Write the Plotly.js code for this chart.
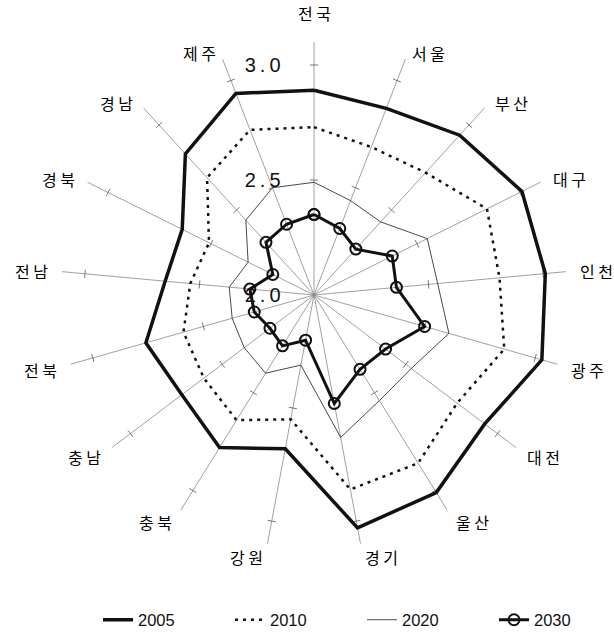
<!DOCTYPE html>
<html><head><meta charset="utf-8">
<script src="https://cdn.plot.ly/plotly-3.0.1.min.js"></script>
<style>html,body{margin:0;padding:0;background:#fff}</style>
</head><body><div id="chart" style="width:614px;height:632px"></div>
<script>
const categories = ['전국','서울','부산','대구','인천','광주','대전','울산','경기','강원','충북','충남','전북','전남','경북','경남','제주'];
const values2005 = [2.89,2.87,2.94,3.01,3.01,3.03,2.93,3.01,3.03,2.68,2.78,2.72,2.76,2.65,2.64,2.83,2.94];
const values2010 = [2.73,2.69,2.72,2.84,2.81,2.86,2.78,2.86,2.86,2.55,2.64,2.60,2.59,2.54,2.51,2.69,2.77];
const values2020 = [2.49,2.44,2.43,2.55,2.54,2.61,2.53,2.54,2.63,2.31,2.40,2.38,2.37,2.37,2.32,2.44,2.50];
const values2030 = [2.35,2.31,2.27,2.38,2.36,2.50,2.39,2.38,2.48,2.20,2.26,2.24,2.27,2.28,2.20,2.31,2.33];
const seriesNames = ['2005','2010','2020','2030'];
const radialTicks = [2.0, 2.5, 3.0];
const radialTickText = ['2.0','2.5','3.0'];
const radialMin = 2.0, radialMax = 3.1;

const n = categories.length;
const theta = categories.map((c, i) => i * 360 / n);
const close = a => a.concat([a[0]]);
const thetaC = close(theta);

// small tick crosses on every spoke at 2.5 and 3.0
const tickHalf = 0.018;
const tr = [], tt = [];
theta.forEach(th => {
  radialTicks.filter(v => v > radialMin).forEach(v => {
    const d = v - radialMin;
    const rr = radialMin + Math.sqrt(d * d + tickHalf * tickHalf);
    const dth = Math.atan(tickHalf / d) * 180 / Math.PI;
    tr.push(rr, rr, null);
    tt.push(th - dth, th + dth, null);
  });
});

const traces = [
  {type:'scatterpolar', r: tr, theta: tt, mode:'lines', line:{color:'#555', width:0.8},
   showlegend:false, hoverinfo:'skip', connectgaps:false},
  {type:'scatterpolar', name: seriesNames[0], r: close(values2005), theta: thetaC, mode:'lines',
   line:{color:'#111', width:3.5}},
  {type:'scatterpolar', name: seriesNames[1], r: close(values2010), theta: thetaC, mode:'lines',
   line:{color:'#111', width:2.5, dash:'3px,5px'}},
  {type:'scatterpolar', name: seriesNames[2], r: close(values2020), theta: thetaC, mode:'lines',
   line:{color:'#333', width:0.9}},
  {type:'scatterpolar', name: seriesNames[3], r: close(values2030), theta: thetaC, mode:'lines+markers',
   line:{color:'#111', width:3}, marker:{symbol:'circle-open', size:11, color:'#111', line:{width:2, color:'#111'}}}
];

const R = 253, cx = 314, cy = 295, W = 614, H = 632;
// category labels placed just beyond each spoke end, Excel-style alignment
const labelR = 265;
const annotations = categories.map((c, i) => {
  const a = theta[i] * Math.PI / 180, s = Math.sin(a), co = Math.cos(a);
  const top = Math.abs(s) < 0.1;
  const rr = top ? labelR + 3 : labelR;
  return {
    xref:'paper', yref:'paper', showarrow:false,
    x: (cx + rr * s) / W, y: (H - (cy - rr * co)) / H,
    xanchor: top ? 'center' : (s > 0 ? 'left' : 'right'),
    yanchor: top ? (co > 0 ? 'bottom' : 'top') : 'middle',
    yshift: top ? 0 : (co > 0 ? -5 * co : -2),
    text: c.split('').join(' '),
    font:{family:'"Noto Sans CJK KR", sans-serif', size:16, color:'#000'}
  };
});

const layout = {
  width: W, height: H,
  margin: {l:0, r:0, t:0, b:0, autoexpand:false},
  paper_bgcolor: '#fff',
  font: {family: '"Noto Sans CJK KR", "Liberation Sans", sans-serif', color:'#111'},
  showlegend: true,
  legend: {orientation:'h', x:98/W, xanchor:'left', y:(H-620)/H, yanchor:'middle',
           font:{family:'"Liberation Sans", Arial, sans-serif', size:16.5, color:'#111'},
           entrywidth: 87, entrywidthmode:'pixels', traceorder:'normal'},
  annotations: annotations,
  polar: {
    domain: {x:[(cx-R)/W, (cx+R)/W], y:[(H-cy-R)/H, (H-cy+R)/H]},
    bgcolor:'#fff',
    angularaxis: {
      type:'linear', thetaunit:'degrees', rotation:90, direction:'clockwise',
      tickmode:'array', tickvals: theta, showticklabels:false,
      showgrid:true, gridcolor:'#888', gridwidth:0.8,
      showline:false, ticks:''
    },
    radialaxis: {
      range:[radialMin, radialMax], angle:90, side:'counterclockwise', tickangle:90,
      tickmode:'array', tickvals: radialTicks, ticktext: radialTickText.map(s => s.split('').join('\u2009')),
      showgrid:false, showline:false, ticks:'outside', ticklen:26, tickcolor:'rgba(0,0,0,0)',
      tickfont:{family:'"Liberation Sans", Arial, sans-serif', size:20, color:'#111'}
    }
  }
};
Plotly.newPlot('chart', traces, layout, {displayModeBar:false, staticPlot:true});
</script></body></html>
